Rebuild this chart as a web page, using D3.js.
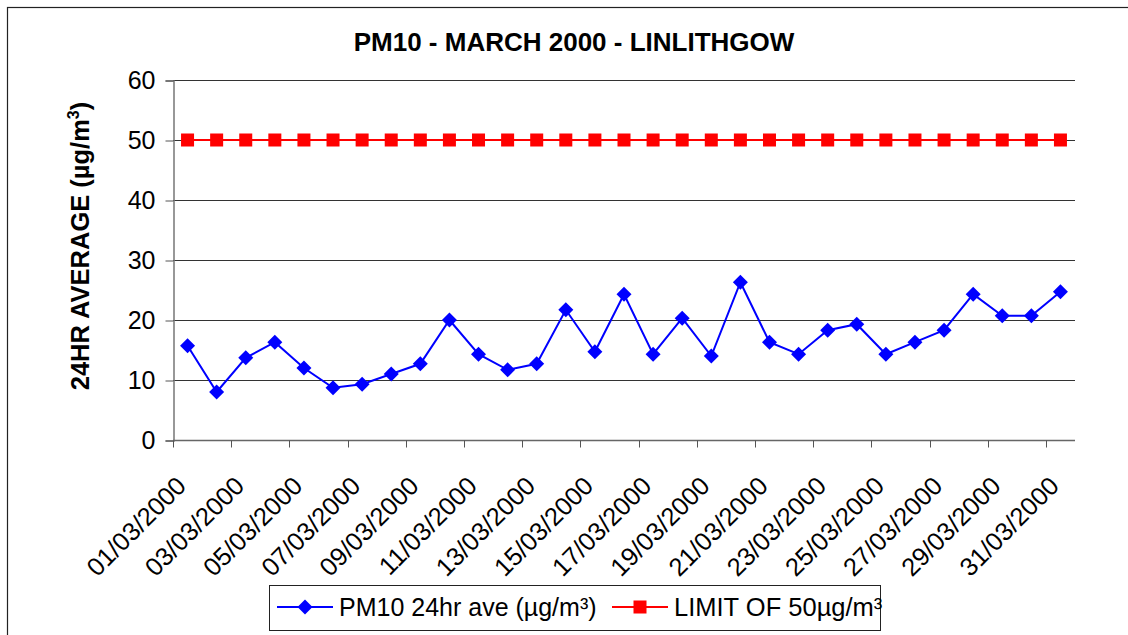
<!DOCTYPE html>
<html>
<head>
<meta charset="utf-8">
<script src="https://cdn.jsdelivr.net/npm/d3@7"></script>
<style>
  html, body { margin: 0; padding: 0; background: #fff; }
  svg { display: block; }
  text { font-family: Arial, "Liberation Sans", sans-serif; }
</style>
</head>
<body>
<svg id="chart" width="1128" height="635"></svg>
<script>
// ---- data ----
const dates = ["01/03/2000","02/03/2000","03/03/2000","04/03/2000","05/03/2000","06/03/2000","07/03/2000","08/03/2000",
  "09/03/2000","10/03/2000","11/03/2000","12/03/2000","13/03/2000","14/03/2000","15/03/2000","16/03/2000",
  "17/03/2000","18/03/2000","19/03/2000","20/03/2000","21/03/2000","22/03/2000","23/03/2000","24/03/2000",
  "25/03/2000","26/03/2000","27/03/2000","28/03/2000","29/03/2000","30/03/2000","31/03/2000"];
const pm10 = [15.7, 8.0, 13.7, 16.3, 12.0, 8.7, 9.3, 11.0, 12.7, 20.0, 14.3, 11.7, 12.7, 21.7, 14.7, 24.3,
  14.3, 20.3, 14.0, 26.3, 16.3, 14.3, 18.3, 19.3, 14.3, 16.3, 18.3, 24.3, 20.7, 20.7, 24.7];
const limit = [50,50,50,50,50,50,50,50,50,50,50,50,50,50,50,50,50,50,50,50,50,50,50,50,50,50,50,50,50,50,50];
const yTicks = [0, 10, 20, 30, 40, 50, 60];
const titleText = "PM10 - MARCH 2000 - LINLITHGOW";
const seriesNames = ["PM10 24hr ave (µg/m³)", "LIMIT OF 50µg/m³"];

// ---- layout ----
const svg = d3.select("#chart");
const L = 173, R = 1075, T = 80, B = 440;
const x = d3.scaleBand().domain(dates).range([L, R]).padding(0);
const y = d3.scaleLinear().domain([0, 60]).range([B, T]);
const cx = d => x(d) + x.bandwidth() / 2;

// outer border
svg.append("rect").attr("x", 7.5).attr("y", 7.5).attr("width", 1140).attr("height", 650)
  .attr("fill", "none").attr("stroke", "#222").attr("stroke-width", 1.2);

// title
svg.append("text").attr("x", 574).attr("y", 51).attr("text-anchor", "middle")
  .attr("font-size", 26).attr("font-weight", "bold").text(titleText);

// gridlines
svg.append("g").selectAll("line").data(yTicks.filter(v => v > 0)).join("line")
  .attr("x1", L).attr("x2", R).attr("y1", d => Math.round(y(d)) + 0.5).attr("y2", d => Math.round(y(d)) + 0.5)
  .attr("stroke", "#333").attr("stroke-width", 1);

// y axis
const yAxis = d3.axisLeft(y).tickValues(yTicks).tickSize(8).tickPadding(10);
const gy = svg.append("g").attr("transform", `translate(${L + 0.5},0.5)`).call(yAxis);
gy.select(".domain").attr("stroke", "#777").attr("stroke-width", 1.5);
gy.selectAll(".tick line").attr("stroke", "#555");
gy.selectAll(".tick text").attr("font-size", 25).attr("fill", "#000")
  .attr("font-family", "Arial, 'Liberation Sans', sans-serif");

// x axis (ticks between categories every 2)
const gx = svg.append("g").attr("transform", `translate(0,${B + 0.5})`);
gx.append("line").attr("x1", L).attr("x2", R).attr("y1", 0).attr("y2", 0)
  .attr("stroke", "#666").attr("stroke-width", 1.5);
gx.selectAll("line.tk").data(dates.filter((d, i) => i % 2 === 0)).join("line").attr("class", "tk")
  .attr("x1", d => Math.round(x(d)) + 0.5).attr("x2", d => Math.round(x(d)) + 0.5)
  .attr("y1", 0).attr("y2", 7).attr("stroke", "#555");
gx.selectAll("text").data(dates.filter((d, i) => i % 2 === 0)).join("text")
  .attr("transform", d => `translate(${cx(d)},${47}) rotate(-45)`)
  .attr("text-anchor", "end").attr("font-size", 25.5).text(d => d);

// y axis title
const yt = svg.append("text").attr("transform", "translate(89,246) rotate(-90)")
  .attr("text-anchor", "middle").attr("font-size", 25.5).attr("font-weight", "bold");
yt.append("tspan").text("24HR AVERAGE (µg/m");
yt.append("tspan").attr("font-size", 16).attr("dy", -10).text("3");
yt.append("tspan").attr("dy", 10).text(")");

// limit series
const line = d3.line().x((d, i) => cx(dates[i])).y(d => y(d));
svg.append("path").datum(limit).attr("d", line).attr("fill", "none")
  .attr("stroke", "#FF0000").attr("stroke-width", 2);
svg.append("g").selectAll("rect").data(limit).join("rect")
  .attr("x", (d, i) => cx(dates[i]) - 6.5).attr("y", d => y(d) - 6.5)
  .attr("width", 13).attr("height", 13).attr("fill", "#FF0000");

// pm10 series
svg.append("path").datum(pm10).attr("d", line).attr("fill", "none")
  .attr("stroke", "#0000FF").attr("stroke-width", 2);
const diamond = s => `M0,${-s}L${s},0L0,${s}L${-s},0Z`;
svg.append("g").selectAll("path").data(pm10).join("path")
  .attr("transform", (d, i) => `translate(${cx(dates[i])},${y(d)})`)
  .attr("d", diamond(7.5)).attr("fill", "#0000FF");

// legend
const lg = svg.append("g");
lg.append("rect").attr("x", 269.5).attr("y", 585.5).attr("width", 611).attr("height", 45)
  .attr("fill", "#fff").attr("stroke", "#222").attr("stroke-width", 1);
const ly = 607;
lg.append("line").attr("x1", 277).attr("x2", 333).attr("y1", ly).attr("y2", ly).attr("stroke", "#0000FF").attr("stroke-width", 2);
lg.append("path").attr("transform", `translate(305,${ly})`).attr("d", diamond(7.5)).attr("fill", "#0000FF");
lg.append("text").attr("x", 339).attr("y", ly + 9).attr("font-size", 25).text(seriesNames[0]);
lg.append("line").attr("x1", 612).attr("x2", 668).attr("y1", ly).attr("y2", ly).attr("stroke", "#FF0000").attr("stroke-width", 2);
lg.append("rect").attr("x", 640 - 6.5).attr("y", ly - 6.5).attr("width", 13).attr("height", 13).attr("fill", "#FF0000");
lg.append("text").attr("x", 674).attr("y", ly + 9).attr("font-size", 25.5).text(seriesNames[1]);
</script>
</body>
</html>
